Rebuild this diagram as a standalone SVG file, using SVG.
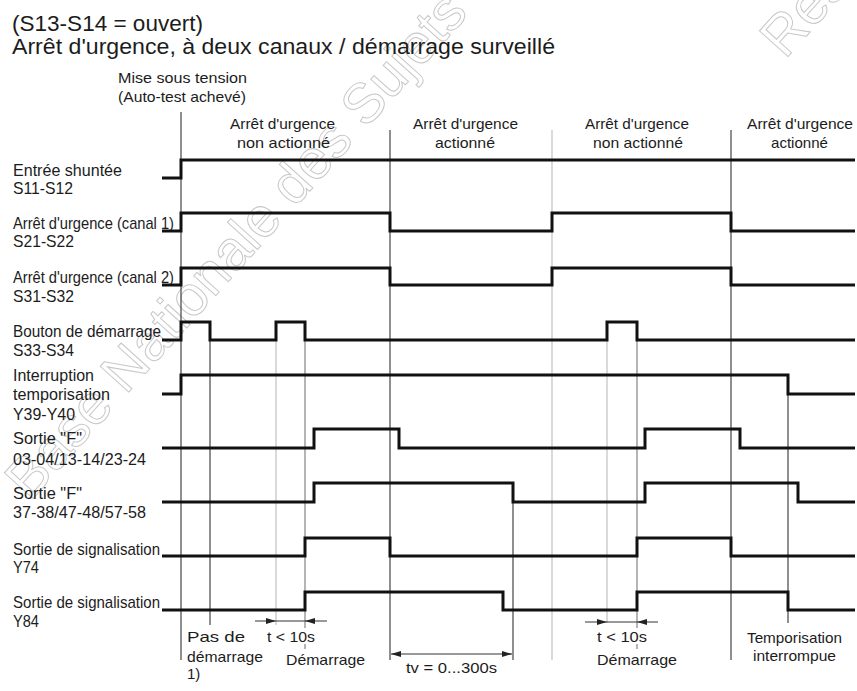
<svg xmlns="http://www.w3.org/2000/svg" width="857" height="691" viewBox="0 0 857 691">
<style>
text{font-family:"Liberation Sans",Arial,sans-serif;fill:#1c1c1c}
.t{font-size:22px}
.l{font-size:17px}
.s{font-size:15px}
.m{text-anchor:middle}
.wm{font-size:56px;fill:none;stroke:#c8c8c8;stroke-width:1}
.sig{fill:none;stroke:#111;stroke-width:3;stroke-linejoin:miter}
.vd{stroke:#333;stroke-width:1.1}
.vm{stroke:#777;stroke-width:1.1}
.vg{stroke:#bbb;stroke-width:1.1}
.dim{stroke:#333;stroke-width:1;fill:none}
</style>
<defs>
<marker id="ah" viewBox="0 0 10 6" refX="10" refY="3" markerWidth="10" markerHeight="6" markerUnits="userSpaceOnUse" orient="auto-start-reverse"><path d="M0,0 L10,3 L0,6 z" fill="#222"/></marker>
</defs>
<rect width="857" height="691" fill="#fff"/>
<g id="watermark">
<text class="wm" transform="translate(30,502) rotate(-48)">Base Nationale des Sujets d'Examens</text>
<text class="wm" transform="translate(785,60) rotate(-48)">Réseau</text>
</g>
<g id="title">
<text class="t" x="12" y="31" textLength="191" lengthAdjust="spacingAndGlyphs">(S13-S14 = ouvert)</text>
<text class="t" x="12" y="54" textLength="543" lengthAdjust="spacingAndGlyphs">Arrêt d'urgence, à deux canaux / démarrage surveillé</text>
</g>
<g id="phases">
<text class="s" x="118" y="83" textLength="129" lengthAdjust="spacingAndGlyphs">Mise sous tension</text>
<text class="s" x="118" y="102" textLength="128" lengthAdjust="spacingAndGlyphs">(Auto-test achevé)</text>
<text class="s m" x="282.5" y="129" textLength="105" lengthAdjust="spacingAndGlyphs">Arrêt d'urgence</text>
<text class="s m" x="283.5" y="148" textLength="93" lengthAdjust="spacingAndGlyphs">non actionné</text>
<text class="s m" x="465.5" y="129" textLength="105" lengthAdjust="spacingAndGlyphs">Arrêt d'urgence</text>
<text class="s m" x="465" y="148" textLength="60" lengthAdjust="spacingAndGlyphs">actionné</text>
<text class="s m" x="637" y="129" textLength="104" lengthAdjust="spacingAndGlyphs">Arrêt d'urgence</text>
<text class="s m" x="638" y="148" textLength="90" lengthAdjust="spacingAndGlyphs">non actionné</text>
<text class="s m" x="800" y="129" textLength="106" lengthAdjust="spacingAndGlyphs">Arrêt d'urgence</text>
<text class="s m" x="799.5" y="148" textLength="57" lengthAdjust="spacingAndGlyphs">actionné</text>
</g>
<g id="connectors">
<line class="vd" x1="181" y1="112" x2="181" y2="660"/>
<line class="vd" x1="210" y1="322" x2="210" y2="625"/>
<line class="vg" x1="276" y1="322" x2="276" y2="625"/>
<line class="vm" x1="305" y1="322" x2="305" y2="628"/>
<line class="vm" x1="305" y1="644" x2="305" y2="649"/>
<line class="vd" x1="390" y1="130" x2="390" y2="660"/>
<line class="vd" x1="513" y1="483" x2="513" y2="660"/>
<line class="vg" x1="552" y1="130" x2="552" y2="660"/>
<line class="vg" x1="607" y1="322" x2="607" y2="623"/>
<line class="vm" x1="637" y1="322" x2="637" y2="628"/>
<line class="vm" x1="637" y1="644" x2="637" y2="649"/>
<line class="vd" x1="731" y1="130" x2="731" y2="660"/>
<line class="vd" x1="788" y1="375" x2="788" y2="623"/>
<path class="dim" d="M255,621 H276" marker-end="url(#ah)"/>
<path class="dim" d="M327,621 H305" marker-end="url(#ah)"/>
<path class="dim" d="M276,621 H305"/>
<path class="dim" d="M585,622 H607" marker-end="url(#ah)"/>
<path class="dim" d="M658,622 H637" marker-end="url(#ah)"/>
<path class="dim" d="M607,622 H637"/>
<path class="dim" d="M391,654 H512" marker-start="url(#ah)" marker-end="url(#ah)"/>
</g>
<g id="s11-s12">
<text class="l" x="13" y="176" textLength="109" lengthAdjust="spacingAndGlyphs">Entrée shuntée</text>
<text class="l" x="13" y="194" textLength="60" lengthAdjust="spacingAndGlyphs">S11-S12</text>
<path class="sig" d="M162,178 H181 V160 H855"/>
</g>
<g id="s21-s22">
<text class="l" x="13" y="229" textLength="161" lengthAdjust="spacingAndGlyphs">Arrêt d'urgence (canal 1)</text>
<text class="l" x="13" y="247" textLength="61" lengthAdjust="spacingAndGlyphs">S21-S22</text>
<path class="sig" d="M162,231 H181 V213 H390 V231 H552 V213 H731 V231 H855"/>
</g>
<g id="s31-s32">
<text class="l" x="13" y="283" textLength="161" lengthAdjust="spacingAndGlyphs">Arrêt d'urgence (canal 2)</text>
<text class="l" x="13" y="302" textLength="61" lengthAdjust="spacingAndGlyphs">S31-S32</text>
<path class="sig" d="M162,285 H181 V268 H390 V285 H552 V268 H731 V285 H855"/>
</g>
<g id="s33-s34">
<text class="l" x="13" y="337" textLength="148" lengthAdjust="spacingAndGlyphs">Bouton de démarrage</text>
<text class="l" x="13" y="356" textLength="61" lengthAdjust="spacingAndGlyphs">S33-S34</text>
<path class="sig" d="M162,340 H181 V322 H210 V340 H276 V322 H305 V340 H607 V322 H637 V340 H855"/>
</g>
<g id="y39-y40">
<text class="l" x="13" y="381" textLength="81" lengthAdjust="spacingAndGlyphs">Interruption</text>
<text class="l" x="13" y="400" textLength="97" lengthAdjust="spacingAndGlyphs">temporisation</text>
<text class="l" x="13" y="420" textLength="62" lengthAdjust="spacingAndGlyphs">Y39-Y40</text>
<path class="sig" d="M162,394 H181 V375 H788 V394 H855"/>
</g>
<g id="sortie-f1">
<text class="l" x="13" y="444" textLength="69" lengthAdjust="spacingAndGlyphs">Sortie "F"</text>
<text class="l" x="13" y="465" textLength="133" lengthAdjust="spacingAndGlyphs">03-04/13-14/23-24</text>
<path class="sig" d="M162,448 H314 V429 H399 V448 H645 V429 H740 V448 H855"/>
</g>
<g id="sortie-f2">
<text class="l" x="13" y="499" textLength="69" lengthAdjust="spacingAndGlyphs">Sortie "F"</text>
<text class="l" x="13" y="518" textLength="133" lengthAdjust="spacingAndGlyphs">37-38/47-48/57-58</text>
<path class="sig" d="M162,502 H314 V483 H513 V502 H645 V483 H798 V502 H855"/>
</g>
<g id="y74">
<text class="l" x="13" y="555" textLength="147" lengthAdjust="spacingAndGlyphs">Sortie de signalisation</text>
<text class="l" x="13" y="573" textLength="26" lengthAdjust="spacingAndGlyphs">Y74</text>
<path class="sig" d="M162,556 H305 V538 H390 V556 H637 V538 H731 V556 H855"/>
</g>
<g id="y84">
<text class="l" x="13" y="608" textLength="147" lengthAdjust="spacingAndGlyphs">Sortie de signalisation</text>
<text class="l" x="13" y="627" textLength="26" lengthAdjust="spacingAndGlyphs">Y84</text>
<path class="sig" d="M162,610 H305 V592 H503 V610 H637 V592 H788 V610 H855"/>
</g>
<g id="annotations">
<text class="s" x="187" y="642" textLength="58" lengthAdjust="spacingAndGlyphs">Pas de</text>
<text class="s" x="187" y="662" textLength="76" lengthAdjust="spacingAndGlyphs">démarrage</text>
<text class="s" x="187" y="679">1)</text>
<text class="s" x="267" y="642" textLength="48" lengthAdjust="spacingAndGlyphs">t &lt; 10s</text>
<text class="s" x="286" y="665" textLength="79" lengthAdjust="spacingAndGlyphs">Démarrage</text>
<text class="s" x="406" y="673" textLength="91" lengthAdjust="spacingAndGlyphs">tv = 0...300s</text>
<text class="s" x="597" y="642" textLength="50" lengthAdjust="spacingAndGlyphs">t &lt; 10s</text>
<text class="s" x="597" y="665" textLength="80" lengthAdjust="spacingAndGlyphs">Démarrage</text>
<text class="s" x="747" y="643" textLength="95" lengthAdjust="spacingAndGlyphs">Temporisation</text>
<text class="s" x="753" y="661" textLength="83" lengthAdjust="spacingAndGlyphs">interrompue</text>
</g>
</svg>
